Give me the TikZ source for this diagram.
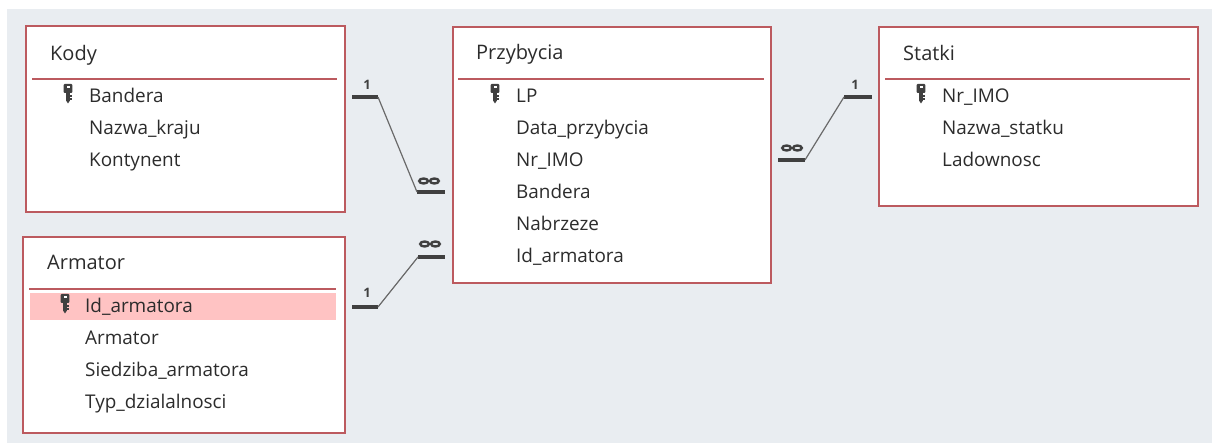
\documentclass[tikz,border=0pt]{standalone}
\usepackage{fontspec}
\setmainfont{Open Sans}
\definecolor{panel}{HTML}{E9EDF1}
\definecolor{tblborder}{HTML}{BC5A5F}
\definecolor{txt}{HTML}{2C2C2C}
\definecolor{hl}{HTML}{FFC3C3}
\definecolor{conn}{HTML}{404040}
\definecolor{relline}{HTML}{6A6A6A}
\begin{document}
\begin{tikzpicture}[x=1pt,y=-1pt,
  tbl/.style={draw=tblborder, line width=2pt, fill=white, anchor=north west, inner sep=0pt},
  ttl/.style={anchor=base west, font=\fontsize{20}{24}\selectfont, text=txt, inner sep=0pt},
  fld/.style={anchor=base west, font=\fontsize{18.9}{22}\selectfont, text=txt, inner sep=0pt},
  sepline/.style={draw=tblborder, line width=1.5pt},
  bar/.style={draw=conn, line width=4pt},
  rel/.style={draw=relline, line width=1.2pt},
  onelbl/.style={font=\bfseries\fontsize{13}{14}\selectfont, text=conn, inner sep=0pt},
  keyicon/.pic={
    \fill[conn, rounded corners=1pt] (-4.3,0) rectangle (4.3,9);
    \fill[white] (-1.5,2) rectangle (1.5,4.5);
    \fill[conn] (-1.6,9) rectangle (1.6,17);
    \fill[conn] (-1.6,17) -- (1.6,17) -- (0,19.5) -- cycle;
    \fill[conn] (1.6,11) rectangle (3.6,12.6);
    \fill[conn] (1.6,14.2) rectangle (3.6,15.8);
  },
  infty/.pic={
    \draw[conn, line width=2.4pt] (-5.4,0) ellipse (4.4 and 2.5);
    \draw[conn, line width=2.4pt] (5.4,0) ellipse (4.4 and 2.5);
  }]
\useasboundingbox (0,0) rectangle (1212,443);
\fill[panel] (7,9) rectangle (1212,443);

% tables
\node[tbl, minimum width=319pt, minimum height=186pt] (kody) at (25,25) {};
\node[tbl, minimum width=322pt, minimum height=196pt] (armator) at (22,236) {};
\node[tbl, minimum width=318pt, minimum height=256pt] (przyb) at (452,26) {};
\node[tbl, minimum width=319pt, minimum height=179pt] (statki) at (878,26) {};

% separators
\draw[sepline] (32,79) -- (337,79);
\draw[sepline] (29,289) -- (336,289);
\draw[sepline] (458,79) -- (764,79);
\draw[sepline] (885,79) -- (1190,79);

% highlight
\fill[hl] (30,293) rectangle (336,320);

% titles
\node[ttl] (kodyT) at (50,61) {Kody};
\node[ttl] (armT) at (47,270) {Armator};
\node[ttl] (przT) at (476,60) {Przybycia};
\node[ttl] (stT) at (903,61) {Statki};

% Kody fields
\pic at (68,84) {keyicon};
\node[fld] (kBandera) at (89,103) {Bandera};
\node[fld] (kNazwa) at (89,135) {Nazwa\_kraju};
\node[fld] (kKont) at (89,167) {Kontynent};

% Armator fields
\pic at (65,294) {keyicon};
\node[fld] (aId) at (85,312.5) {Id\_armatora};
\node[fld] (aArm) at (85,344.5) {Armator};
\node[fld] (aSiedz) at (85,376.5) {Siedziba\_armatora};
\node[fld] (aTyp) at (85,408.5) {Typ\_dzialalnosci};

% Przybycia fields
\pic at (495,84) {keyicon};
\node[fld] (pLP) at (516,103) {LP};
\node[fld] (pData) at (516,135) {Data\_przybycia};
\node[fld] (pNr) at (516,167) {Nr\_IMO};
\node[fld] (pBand) at (516,199) {Bandera};
\node[fld] (pNab) at (516,231) {Nabrzeze};
\node[fld] (pId) at (516,263) {Id\_armatora};

% Statki fields
\pic at (921,84) {keyicon};
\node[fld] (sNr) at (942,103) {Nr\_IMO};
\node[fld] (sNazwa) at (942,135) {Nazwa\_statku};
\node[fld] (sLad) at (942,167) {Ladownosc};

% relationship Kody - Przybycia
\coordinate (k1) at (352,97);
\coordinate (k2) at (378,97);
\coordinate (k3) at (417,192);
\coordinate (k4) at (445,192);
\draw[bar] (k1) -- (k2);
\draw[bar] (k3) -- (k4);
\draw[rel] (k2) -- (k3);
\node[onelbl] (k1lbl) at (367,85) {1};
\pic at (429,181) {infty};

% relationship Armator - Przybycia
\coordinate (a1) at (352,307);
\coordinate (a2) at (378,307);
\coordinate (a3) at (418,257);
\coordinate (a4) at (445,257);
\draw[bar] (a1) -- (a2);
\draw[bar] (a3) -- (a4);
\draw[rel] (a2) -- (a3);
\node[onelbl] (a1lbl) at (367,293) {1};
\pic at (430,244) {infty};

% relationship Przybycia - Statki
\coordinate (s1) at (778,160);
\coordinate (s2) at (805,160);
\coordinate (s3) at (844,97);
\coordinate (s4) at (872,97);
\draw[bar] (s1) -- (s2);
\draw[bar] (s3) -- (s4);
\draw[rel] (s2) -- (s3);
\node[onelbl] (s1lbl) at (855,85) {1};
\pic at (792,148) {infty};
\end{tikzpicture}
\end{document}
